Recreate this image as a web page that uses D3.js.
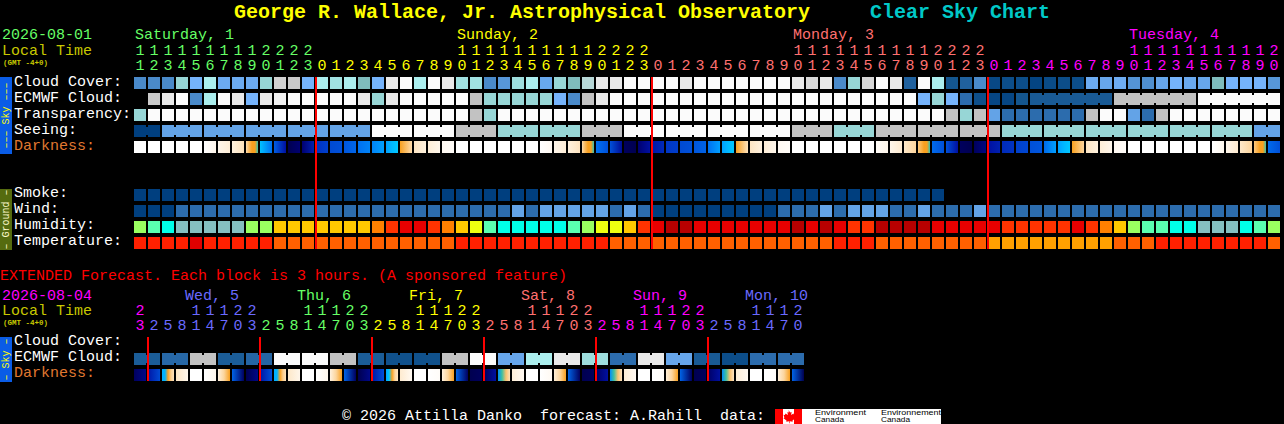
<!DOCTYPE html>
<html>
<head>
<meta charset="utf-8">
<title>Clear Sky Chart</title>
<script src="https://cdn.jsdelivr.net/npm/d3@7"></script>
<style>
	html, body { margin: 0; padding: 0; background: #000; }
	svg { display: block; }
	text { font-family: "Liberation Mono", monospace; font-size: 15px; white-space: pre; }
</style>
</head>
<body>
<svg class="canvas"></svg>
<script>
const width = 1284;
const height = 424;

// hours along the top of each chart
const hours = [
	11, 12, 13, 14, 15, 16, 17, 18, 19, 20, 21, 22, 23,
	0, 1, 2, 3, 4, 5, 6, 7, 8, 9, 10, 11, 12, 13, 14, 15, 16, 17, 18, 19, 20, 21, 22, 23,
	0, 1, 2, 3, 4, 5, 6, 7, 8, 9, 10, 11, 12, 13, 14, 15, 16, 17, 18, 19, 20, 21, 22, 23,
	0, 1, 2, 3, 4, 5, 6, 7, 8, 9, 10, 11, 12, 13, 14, 15, 16, 17, 18, 19, 20
];
const extHours = [
	23,
	2, 5, 8, 11, 14, 17, 20, 23,
	2, 5, 8, 11, 14, 17, 20, 23,
	2, 5, 8, 11, 14, 17, 20, 23,
	2, 5, 8, 11, 14, 17, 20, 23,
	2, 5, 8, 11, 14, 17, 20, 23,
	2, 5, 8, 11, 14, 17, 20
];

const dayNames = ["Saturday, 1", "Sunday, 2", "Monday, 3", "Tuesday, 4"];
const dayNameCols = [0, 23, 47, 71];
const dayColors = ["#66ff66", "#ffff00", "#ff7070", "#ff00ff"];

const extDayNames = ["Wed, 5", "Thu, 6", "Fri, 7", "Sat, 8", "Sun, 9", "Mon, 10"];
const extDayCols = [3.64, 11.64, 19.64, 27.64, 35.64, 43.64];
const extDayColors = ["#ff00ff", "#6a6aff", "#66ff66", "#ffff00", "#ff7070", "#ff00ff", "#6a6aff"];

const skyRows = ["Cloud Cover:", "ECMWF Cloud:", "Transparency:", "Seeing:", "Darkness:"];
const groundRows = ["Smoke:", "Wind:", "Humidity:", "Temperature:"];
const extRows = ["Cloud Cover:", "ECMWF Cloud:", "Darkness:"];

// sky levels, 0 = darkest blue ... 11 = white
const cloudCover = [
	3, 3, 3, 7, 5, 8, 4.5, 4.5, 4.5, 7, 9.4, 9.2, 5, 8, 7.5, 8, 6, 5, 10, 11, 8,
	11, 10, 7.5, 7.5, 3, 3.5, 7.3, 8, 4.3, 7, 6, 8.5, 10, 10, 11, 11, 11, 11, 10, 11, 11, 11, 11, 11, 11, 11,
	10, 9.6, 10, 3, 7, 9.5, 11, 10, 1.5, 11, 8, 1, 1.5, 3, 0.4,
	0.6, 0.6, 0.2, 0.5, 0.6, 0.6, 4.5, 4.2, 4.6, 3.4, 3.2, 4.2, 5, 4.4, 4.2, 6, 5, 5, 5, 3.5
];
const ecmwf = [
	null, 9.2, 10, 11, 3, 8, 11, 10, 5, 10, 10.5, 11, 11, 11, 11, 11, 10, 7, 10, 11, 11,
	11, 11, 11, 9, 7, 7, 7, 7, 7, 5, 3, 9, 10, 11, 11, 11, 11, 11, 11, 11, 11, 11, 11, 11, 11, 11,
	11, 11, 11, 11, 11, 11, 11, 11, 11, 5, 7, 5, 2, 0.7, 0.3,
	0.3, 1, 1.2, 1.2, 1.2, 1.2, 1.2, 1.2, 9, 9, 9, 9, 9, 9, 11, 11, 11, 11, 11, 11
];
const ecmwfBlocks = [
	1, 1, 1, 1, 1, 1, 1, 1, 1, 1, 1, 1, 1, 1, 1, 1, 1, 1, 1, 1, 1,
	1, 1, 1, 1, 1, 1, 1, 1, 1, 1, 1, 1, 1, 1, 1, 1, 1, 1, 1, 1, 1, 1, 1, 1, 1, 1,
	1, 1, 1, 1, 1, 1, 1, 1, 1, 1, 1, 1, 1, 1, 1, 1, 1, 6, 6, 6
];
const transparency = [
	7, 11, 11, 11, 11, 11, 11, 11, 11, 11, 11, 11, 11, 11, 11, 11, 11, 11, 11, 11, 11,
	11, 11, 11, 9, 7, 11, 11, 11, 11, 11, 11, 11, 11, 11, 11, 11, 11, 11, 11, 11, 11, 11, 11, 11, 11, 11,
	11, 11, 11, 11, 11, 11, 11, 11, 11, 11, 11, 9, 7, 9, 4,
	2, 2, 2, 2, 2, 2, 9, 11, 11, 4, 2, 9, 11, 11, 11, 11, 11, 11, 11, 11
];
const seeing = [
	0, 0, 4, 4, 4, 4, 4, 4, 4, 4, 4, 4, 4, 4, 4, 4, 4, 11, 11, 11, 11,
	11, 11, 9, 9, 9, 7, 7, 7, 7, 7, 7, 9, 9, 9, 11, 11, 11, 11, 11, 11, 11, 11, 11, 11, 11, 11,
	9, 9, 9, 7, 7, 7, 9, 9, 9, 9, 9, 9, 9, 9, 9,
	7, 7, 7, 7, 7, 7, 7, 7, 7, 7, 7, 7, 7, 7, 7, 7, 7, 7, 4, 4
];
const seeingBlocks = [2, 3, 3, 3, 3, 3, 3, 3, 3, 3, 3, 3, 3, 3, 3, 3, 3, 3, 3, 3, 3, 3, 3, 3, 3, 3, 3, 2];
const smoke = [
	0, 0, 0, 0, 0, 0, 0, 0, 0, 0, 0, 0, 0, 0, 0, 0, 0, 0, 0, 0, 0,
	0, 0, 0, 0, 0, 0, 0, 0, 0, 0, 0, 0, 0, 0, 0, 0, 0, 0, 0, 0, 0, 0, 0, 0, 0, 0,
	0, 0, 0, 0, 0, 0, 0, 0, 0, 0, 0
];
const wind = [
	0, 0, 0, 2, 2, 2, 2, 2, 2, 2, 2, 2, 2, 2, 2, 2, 2, 2, 2, 2, 2,
	2, 2, 2, 2, 2, 2, 4, 2, 4, 4, 4, 4, 4, 2, 4, 2, 0, 0, 0, 0, 0, 0, 0, 0, 0, 2,
	2, 2, 4, 2, 4, 4, 4, 2, 2, 4, 2, 2, 2, 4, 2,
	2, 2, 2, 2, 2, 2, 2, 2, 2, 2, 2, 2, 2, 2, 2, 2, 2, 2, 2, 2
];
// humidity classes, low to high
const humidity = [
	3, 2, 1, 0, 0, 0, 0, 0, 3, 3, 5, 5, 5, 5, 5, 5, 5, 6, 7, 8, 8,
	7, 6, 5, 4, 2, 1, 1, 1, 1, 1, 2, 3, 4, 4, 5, 7, 8, 9, 9, 8, 8, 8, 8, 8, 8, 8,
	9, 8, 9, 8, 7, 7, 9, 9, 9, 9, 8, 8, 8, 8, 8,
	7, 7, 7, 7, 7, 8, 7, 6, 5, 3, 2, 2, 1, 1, 0, 0, 0, 1, 2, 3
];
// temperature classes, warm to cool
const temperature = [
	1, 1, 1, 1, 0, 1, 1, 1, 1, 1, 2, 2, 2, 2, 2, 2, 2, 2, 2, 2, 2,
	2, 2, 1, 1, 1, 1, 1, 1, 1, 1, 1, 1, 1, 2, 2, 2, 2, 2, 2, 2, 2, 2, 2, 2, 2, 2,
	2, 2, 2, 1, 1, 1, 2, 2, 2, 2, 2, 2, 2, 2, 3,
	3, 3, 3, 3, 3, 3, 3, 3, 2, 2, 2, 1, 1, 1, 1, 1, 1, 1, 1, 2
];
// darkness, per block from left edge to right edge. 0 = daylight, 10 = full dark
const darkness = [
	[0, 0], [0, 0], [0, 0], [0, 0], [0, 0], [0, 0.3], [0.3, 0.6], [0.5, 1], [1.1, 1.6, 2, 2, 2.6], [3.2, 5], [5.6, 8],
	[10, 9], [9, 7.5], [7, 6.5], [6.2, 6], [5.8, 5.3], [5, 4.6], [4.6, 4], [4, 3.4, 3], [2, 1.1], [0.9, 0.5],
	[0.6, 0.3], [0.2, 0.1], [0, 0], [0, 0], [0, 0], [0, 0], [0, 0], [0, 0], [0, 0.2], [0.3, 0.6], [0.5, 0.95],
	[1.1, 1.6, 2, 2, 2.6], [5, 6], [6, 8.2], [9.6, 10], [9, 8], [7.8, 7.2], [6.8, 6.6], [6.2, 6], [5.8, 5.4], [5, 4],
	[4, 3.4, 3], [2, 1], [0.9, 0.5], [0.6, 0.3], [0.2, 0.1], [0, 0], [0, 0], [0, 0], [0, 0], [0, 0], [0, 0],
	[0.1, 0.3], [0.3, 0.7], [0.8, 1.2], [1.4, 1.7, 2, 2, 2.6], [5.2, 6], [6, 8], [9.6, 10], [9.6, 8.6], [8, 7.5],
	[7.2, 6.9], [6.5, 6.3], [6, 5.8], [5.2, 4], [4, 3.4, 3], [2, 1.2], [0.9, 0.5], [0.6, 0.3], [0.2, 0.1],
	[0, 0], [0, 0], [0, 0], [0, 0], [0, 0], [0, 0], [0, 0.25], [0.3, 0.7], [0.8, 1.2], [1.4, 1.7, 2, 2, 2.6], [5.2, 6]
];

const extEcmwf = [
	1.3, 1.3, 1.8, 1.8, 9, 9, 1.3, 1.3, 1.7, 1.7, 11, 11, 11, 11, 9, 9, 1.3, 1.3, 0.8, 0.8, 0.8, 0.8, 9, 9,
	11, 11, 4.2, 4.2, 8, 8, 10, 10, 7.3, 7.3, 2, 2, 10, 10, 4.2, 4.2, 1.2, 1.2, 0.6, 0.6, 2, 2, 2, 2
];
const extBlocks = [2, 2, 2, 2, 2, 2, 2, 2, 2, 2, 2, 2, 2, 2, 2, 2, 2, 2, 2, 2, 2, 2, 2, 2];
const extDarkness = [
	[9.5, 8.5], [7.8, 6.2], [3.6, 3.5, 2, 1.3, 1], [0.9, 0.3], [0, 0], [0, 0.3], [0.5, 1.2, 2], [5.4, 9.5],
	[10, 8.5], [7.8, 6], [3.6, 3.5, 2, 1.3, 1], [0.8, 0.3], [0, 0], [0, 0.3], [0.5, 1.2, 2], [5.4, 9.5],
	[10, 8.5], [7.8, 6], [3.8, 3, 2, 1.2, 0.9], [0.7, 0.2], [0, 0], [0, 0.1], [0.5, 1.2, 2], [5.4, 9.5],
	[10, 9.6], [9.6, 8], [4.4, 2.5, 1.5, 1], [0.6, 0.2], [0, 0], [0, 0.2], [0.6, 1.2, 2], [5.4, 9.5],
	[10, 9.6], [9.3, 8], [4.4, 2.5, 1.5, 0.9], [0.6, 0.2], [0, 0], [0, 0.1], [0.6, 1.2, 2], [5.4, 9.5],
	[10, 9.6], [9.3, 8], [4.4, 2.5, 1.5, 0.9], [0.6, 0.2], [0, 0], [0, 0.1], [0.6, 1.2, 2], [5.4, 10]
];

const skyColor = d3.scaleLinear()
	.domain([0, 1, 2, 3, 4, 5, 6, 7, 8, 9, 10, 11])
	.range(["#003f7f", "#14568f", "#2c6cad", "#4a8aca", "#63a3e7", "#75b3fb", "#7fbdbd", "#97d6d6", "#abeeee", "#c2c2c2", "#e9e9e9", "#fbfbfb"]);

const humidityColor = d3.scaleOrdinal()
	.domain([0, 1, 2, 3, 4, 5, 6, 7, 8, 9])
	.range(["#85bfc0", "#00ffe8", "#5affb0", "#9aff60", "#eeff10", "#ffc800", "#ff8000", "#ff3300", "#e80000", "#b80000"]);

const temperatureColor = d3.scaleOrdinal()
	.domain([0, 1, 2, 3])
	.range(["#e00000", "#ff2000", "#ff6000", "#ffa000"]);

const darkColor = d3.scaleLinear()
	.domain([0, 1, 2, 2.5, 3, 4, 5, 6, 7, 8, 9, 10])
	.range(["#ffffff", "#fde2bc", "#f8a020", "#40c0a0", "#00c8ff", "#00a0ff", "#0070f0", "#0050d8", "#0030c0", "#0010a0", "#000070", "#000050"]);

const svg = d3.select(".canvas")
	.attr("width", width)
	.attr("height", height);

const defs = svg.append("defs");

const label = (x, y, txt, color, size, weight, family) => {
	return svg.append("text")
		.attr("x", x)
		.attr("y", y)
		.attr("fill", color)
		.style("font-size", (size || 15) + "px")
		.style("font-weight", weight || "normal")
		.style("font-family", family || "'Liberation Mono', monospace")
		.text(txt);
};

const rowScale = (names, top, bottom) => d3.scaleBand()
	.domain(names)
	.range([top, bottom])
	.paddingInner(0.25);

// cells of one row, value -> colour
const drawCells = (g, x, y, name, values, color) => {
	g.selectAll(null)
		.data(values.map((v, i) => ({ v, i })).filter(d => d.v !== null))
		.join("rect")
		.attr("x", d => x(d.i))
		.attr("y", y(name))
		.attr("width", x.bandwidth())
		.attr("height", y.bandwidth())
		.attr("fill", d => color(d.v));
};

// the narrow bridges that tie the hours of one forecast block together
const drawBridges = (g, x, y, name, values, blocks, color) => {
	let start = 0;
	const links = [];
	blocks.forEach(len => {
		for (let i = start; i < start + len - 1; i++) links.push(i);
		start += len;
	});
	g.selectAll(null)
		.data(links)
		.join("rect")
		.attr("x", i => x(i) + x.bandwidth())
		.attr("y", y(name) + 2)
		.attr("width", x.step() - x.bandwidth())
		.attr("height", y.bandwidth() - 4)
		.attr("fill", i => color(values[i]));
};

const drawDarkness = (g, x, y, name, values, idPrefix) => {
	values.forEach((stops, i) => {
		defs.append("linearGradient")
			.attr("id", idPrefix + i)
			.selectAll("stop")
			.data(stops)
			.join("stop")
			.attr("offset", (d, k) => (k / (stops.length - 1) * 100) + "%")
			.attr("stop-color", d => darkColor(d));
	});
	g.selectAll(null)
		.data(values)
		.join("rect")
		.attr("x", (d, i) => x(i))
		.attr("y", y(name))
		.attr("width", x.bandwidth())
		.attr("height", y.bandwidth())
		.style("fill", (d, i) => `url(#${idPrefix}${i})`);
};

// tens and ones of the hour as two tickless axes
const drawHourAxes = (x, hrs, upperY, lowerY, colors) => {
	let day = 0;
	const colOf = hrs.map((h, i) => {
		if (i > 0 && h < hrs[i - 1]) day++;
		return colors[day];
	});
	const tens = d3.axisTop(x).tickSize(0).tickPadding(0)
		.tickFormat(i => hrs[i] >= 10 ? Math.floor(hrs[i] / 10) : "");
	const ones = d3.axisTop(x).tickSize(0).tickPadding(0)
		.tickFormat(i => hrs[i] % 10);
	[[tens, upperY], [ones, lowerY]].forEach(([axis, y]) => {
		const g = svg.append("g").attr("transform", `translate(0, ${y})`).call(axis);
		g.select(".domain").remove();
		g.selectAll("text")
			.attr("dy", 0)
			.attr("y", 0)
			.attr("fill", i => colOf[i])
			.style("font-size", "15px")
			.style("font-family", "'Liberation Mono', monospace");
	});
};

const midnightCols = hrs => hrs.map((h, i) => i).filter(i => i > 0 && hrs[i] < hrs[i - 1]);

const sideBar = (top, bottom, fill, color, txt) => {
	svg.append("rect")
		.attr("x", 0)
		.attr("y", top)
		.attr("width", 12)
		.attr("height", bottom - top)
		.attr("fill", fill);
	svg.append("text")
		.attr("transform", `translate(9, ${(top + bottom) / 2}) rotate(-90)`)
		.attr("text-anchor", "middle")
		.attr("fill", color)
		.style("font-size", "10px")
		.text(txt);
};

//title
label(234, 18, "George R. Wallace, Jr. Astrophysical Observatory", "#ffff00", 20, "bold");
label(870, 18, "Clear Sky Chart", "#00c8c8", 20, "bold");

//main chart
const x = d3.scaleBand()
	.domain(hours.map((h, i) => i))
	.range([134, 1280])
	.paddingInner(1 / 7)
	.align(0);

const ySky = rowScale(skyRows, 77, 153);
const yGround = rowScale(groundRows, 189, 249);

label(2, 39, "2026-08-01", "#66ff66");
label(2, 55, "Local Time", "#c8c800");
label(3, 65, "(GMT -4+0)", "#c8c800", 7.5, "bold");

dayNames.forEach((d, i) => {
	label(x(dayNameCols[i]) + 1, 39, d, dayColors[i]);
});
drawHourAxes(x, hours, 55, 70, dayColors);

const sky = svg.append("g").attr("shape-rendering", "crispEdges");
drawCells(sky, x, ySky, "Cloud Cover:", cloudCover, skyColor);
drawCells(sky, x, ySky, "ECMWF Cloud:", ecmwf, skyColor);
drawBridges(sky, x, ySky, "ECMWF Cloud:", ecmwf, ecmwfBlocks, skyColor);
drawCells(sky, x, ySky, "Transparency:", transparency, skyColor);
drawCells(sky, x, ySky, "Seeing:", seeing, skyColor);
drawBridges(sky, x, ySky, "Seeing:", seeing, seeingBlocks, skyColor);
drawDarkness(sky, x, ySky, "Darkness:", darkness, "dark");

drawCells(sky, x, yGround, "Smoke:", smoke, skyColor);
drawCells(sky, x, yGround, "Wind:", wind, skyColor);
drawCells(sky, x, yGround, "Humidity:", humidity, humidityColor);
drawCells(sky, x, yGround, "Temperature:", temperature, temperatureColor);

skyRows.forEach(r => {
	label(14, ySky(r) + 9, r, r === "Darkness:" ? "#e07830" : "#ffffff");
});
groundRows.forEach(r => {
	label(14, yGround(r) + 8, r, "#ffffff");
});

sideBar(77, 154, "#0a5ce6", "#ffff00", "––– Sky –––");
sideBar(189, 250, "#556b0f", "#fffacd", "– Ground –");

sky.selectAll(null)
	.data(midnightCols(hours))
	.join("rect")
	.attr("x", i => x(i) - 1)
	.attr("y", 77)
	.attr("width", 2)
	.attr("height", 172)
	.attr("fill", "#ff0000");

//extended forecast
label(0, 280, "EXTENDED Forecast. Each block is 3 hours. (A sponsored feature)", "#ff0000");

const xExt = d3.scaleBand()
	.domain(extHours.map((h, i) => i))
	.range([134, 804])
	.paddingInner(1 / 7)
	.align(0);

const yExt = rowScale(extRows, 337, 381);

label(2, 300, "2026-08-04", "#ff00ff");
label(2, 315, "Local Time", "#c8c800");
label(3, 325, "(GMT -4+0)", "#c8c800", 7.5, "bold");

extDayNames.forEach((d, i) => {
	label(xExt(0) + extDayCols[i] * xExt.step(), 300, d, extDayColors[i + 1]);
});
drawHourAxes(xExt, extHours, 315, 330, extDayColors);

const ext = svg.append("g").attr("shape-rendering", "crispEdges");
drawCells(ext, xExt, yExt, "ECMWF Cloud:", extEcmwf, skyColor);
drawBridges(ext, xExt, yExt, "ECMWF Cloud:", extEcmwf, extBlocks, skyColor);
drawDarkness(ext, xExt, yExt, "Darkness:", extDarkness, "extDark");

extRows.forEach(r => {
	label(14, yExt(r) + 8, r, r === "Darkness:" ? "#e07830" : "#ffffff");
});
sideBar(337, 382, "#0a5ce6", "#ffff00", "– Sky –");

ext.selectAll(null)
	.data(midnightCols(extHours))
	.join("rect")
	.attr("x", i => xExt(i) - 1)
	.attr("y", 337)
	.attr("width", 2)
	.attr("height", 44)
	.attr("fill", "#ff0000");

//footer
label(342, 420, "© 2026 Attilla Danko  forecast: A.Rahill  data:", "#ffffff");

svg.append("rect").attr("x", 775).attr("y", 409).attr("width", 166).attr("height", 15).attr("fill", "#ffffff");
svg.append("rect").attr("x", 775).attr("y", 409).attr("width", 8).attr("height", 15).attr("fill", "#ff0000");
svg.append("rect").attr("x", 794).attr("y", 409).attr("width", 8).attr("height", 15).attr("fill", "#ff0000");
svg.append("path")
	.attr("d", "M788.5 410l1.6 2.6 1.5-.7-.5 3.2 2.4-1.6.6 1.4 1.4-.2-.9 2.8.9.7-3 2.3.2 1.2-2.9-.4v2h-.6v-2l-2.9.4.2-1.2-3-2.3.9-.7-.9-2.8 1.4.2.6-1.4 2.4 1.6-.5-3.2 1.5.7z")
	.attr("fill", "#ff0000");

const logoText = (px, py, txt, len) => {
	label(px, py, txt, "#000000", 6.6, "normal", "'Liberation Sans', sans-serif")
		.attr("textLength", len)
		.attr("lengthAdjust", "spacingAndGlyphs");
};
logoText(815, 415.2, "Environment", 51);
logoText(815, 422.4, "Canada", 29);
logoText(881, 415.2, "Environnement", 60);
logoText(881, 422.4, "Canada", 29);
</script>
</body>
</html>
